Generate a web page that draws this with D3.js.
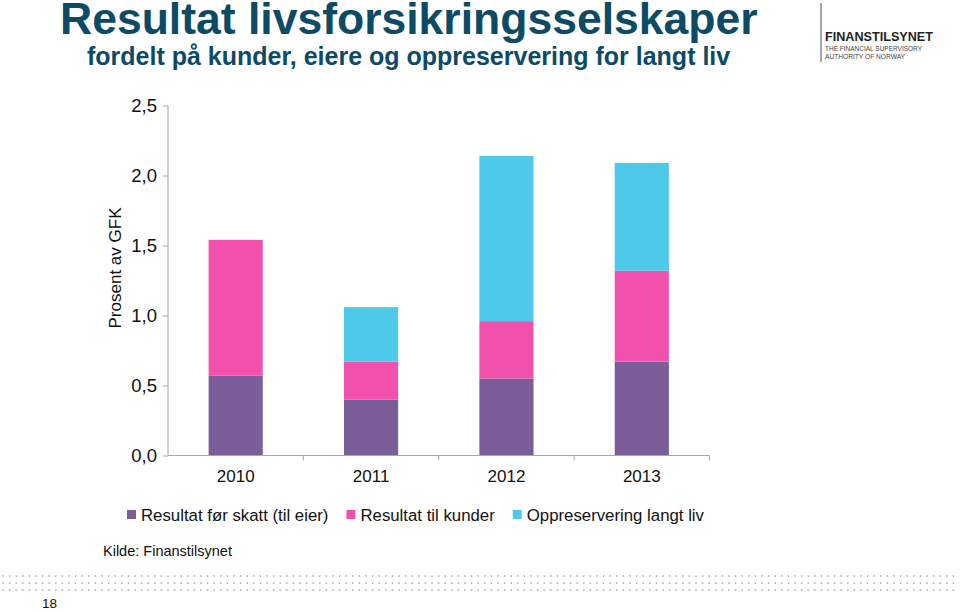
<!DOCTYPE html>
<html>
<head>
<meta charset="utf-8">
<script src="https://cdn.jsdelivr.net/npm/d3@7"></script>
<style>
html,body{margin:0;padding:0;background:#fff;}
svg{display:block;font-family:"Liberation Sans",Arial,sans-serif;}
</style>
</head>
<body>
<svg id="c" width="960" height="612"></svg>
<script>
// ---- data ----
const years = ["2010", "2011", "2012", "2013"];
const resultatEier = [0.57, 0.40, 0.55, 0.67];
const resultatKunder = [0.97, 0.27, 0.41, 0.65];
const oppreservering = [0.00, 0.39, 1.18, 0.77];
const seriesNames = ["Resultat før skatt (til eier)", "Resultat til kunder", "Oppreservering langt liv"];
const seriesColors = ["#7B5D99", "#F151AC", "#4FC9EA"];
const yTicks = [0, 0.5, 1.0, 1.5, 2.0, 2.5];

const svg = d3.select("#c");

// ---- titles ----
svg.append("text").attr("x", 60).attr("y", 33.5)
  .attr("font-size", 44.5).attr("font-weight", "bold").attr("fill", "#0C4A65")
  .text("Resultat livsforsikringsselskaper");
svg.append("text").attr("x", 87).attr("y", 65)
  .attr("font-size", 25).attr("font-weight", "bold").attr("fill", "#0C4A65")
  .text("fordelt på kunder, eiere og oppreservering for langt liv");

// ---- logo ----
const logo = svg.append("g");
logo.append("line").attr("x1", 821).attr("x2", 821).attr("y1", 3).attr("y2", 62)
  .attr("stroke", "#8a8a8a").attr("stroke-width", 1.5);
logo.append("text").attr("x", 825).attr("y", 41).attr("font-size", 12.5).attr("font-weight", "bold")
  .attr("fill", "#222").attr("textLength", 108).attr("lengthAdjust", "spacingAndGlyphs").text("FINANSTILSYNET");
logo.append("text").attr("x", 825).attr("y", 51).attr("font-size", 6.6)
  .attr("fill", "#444").attr("textLength", 97).attr("lengthAdjust", "spacingAndGlyphs").text("THE FINANCIAL SUPERVISORY");
logo.append("text").attr("x", 825).attr("y", 58.5).attr("font-size", 6.6)
  .attr("fill", "#444").attr("textLength", 80).attr("lengthAdjust", "spacingAndGlyphs").text("AUTHORITY OF NORWAY");

// ---- scales ----
const x = d3.scaleBand().domain(years).range([168, 709.5]).paddingInner(0.6).paddingOuter(0.3);
const xb = d3.scaleBand().domain(years).range([168, 709.5]).padding(0);
const y = d3.scaleLinear().domain([0, 2.5]).range([455.5, 105.5]);

// ---- stacked bars ----
const table = years.map((yr, i) => ({year: yr, a: resultatEier[i], b: resultatKunder[i], c: oppreservering[i]}));
const stack = d3.stack().keys(["a", "b", "c"])(table);
svg.append("g").selectAll("g").data(stack).join("g")
  .attr("fill", (d, i) => seriesColors[i])
  .selectAll("rect").data(d => d).join("rect")
  .attr("x", d => x(d.data.year))
  .attr("width", x.bandwidth())
  .attr("y", d => y(d[1]))
  .attr("height", d => Math.max(0, y(d[0]) - y(d[1])));

// ---- axes ----
const axisColor = "#A6A6A6";
const yAxis = svg.append("g").attr("transform", "translate(168,0)")
  .call(d3.axisLeft(y).tickValues(yTicks).tickSize(5).tickPadding(6)
    .tickFormat(d => d3.format(".1f")(d).replace(".", ",")));
yAxis.select(".domain").attr("stroke", axisColor).attr("d", "M0,455.5V105.5");
yAxis.selectAll(".tick line").attr("stroke", axisColor);
yAxis.selectAll(".tick text").attr("font-size", 18.5).attr("fill", "#111")
  .attr("font-family", "Liberation Sans, Arial, sans-serif");

const xAxis = svg.append("g").attr("transform", "translate(0,455.5)")
  .call(d3.axisBottom(xb).tickSize(0).tickPadding(0));
xAxis.select(".domain").attr("stroke", axisColor).attr("d", "M168,0H709.5");
xAxis.selectAll(".tick text").attr("font-size", 17).attr("fill", "#111").attr("dy", null).attr("y", 26.5)
  .attr("font-family", "Liberation Sans, Arial, sans-serif");
// category boundary ticks
const bounds = years.map(d => xb(d) + xb.bandwidth());
xAxis.append("g").selectAll("line").data(bounds).join("line")
  .attr("x1", d => d).attr("x2", d => d).attr("y1", 0).attr("y2", 5)
  .attr("stroke", axisColor);

// y axis title
svg.append("text").attr("transform", "translate(121,268) rotate(-90)")
  .attr("text-anchor", "middle").attr("font-size", 17).attr("fill", "#111")
  .text("Prosent av GFK");

// ---- legend ----
const legend = svg.append("g");
let lx = 127;
seriesNames.forEach((name, i) => {
  legend.append("rect").attr("x", lx).attr("y", 510).attr("width", 9).attr("height", 9)
    .attr("fill", seriesColors[i]);
  const t = legend.append("text").attr("x", lx + 14).attr("y", 520.5)
    .attr("font-size", 16.8).attr("fill", "#111").text(name);
  lx = lx + 14 + t.node().getComputedTextLength() + 18;
});

// ---- source ----
svg.append("text").attr("x", 103).attr("y", 556).attr("font-size", 14.5).attr("fill", "#111")
  .text("Kilde: Finanstilsynet");

// ---- dotted band ----
const rows = [576, 583, 590];
const cols = d3.range(3, 960, 6.6);
const dots = svg.append("g").attr("fill", "#aeb8c2");
rows.forEach(ry => {
  dots.selectAll(null).data(cols).join("circle")
    .attr("cx", d => d).attr("cy", ry).attr("r", 0.9);
});

// page number
svg.append("text").attr("x", 42).attr("y", 608).attr("font-size", 13.5).attr("fill", "#111").text("18");
</script>
</body>
</html>
